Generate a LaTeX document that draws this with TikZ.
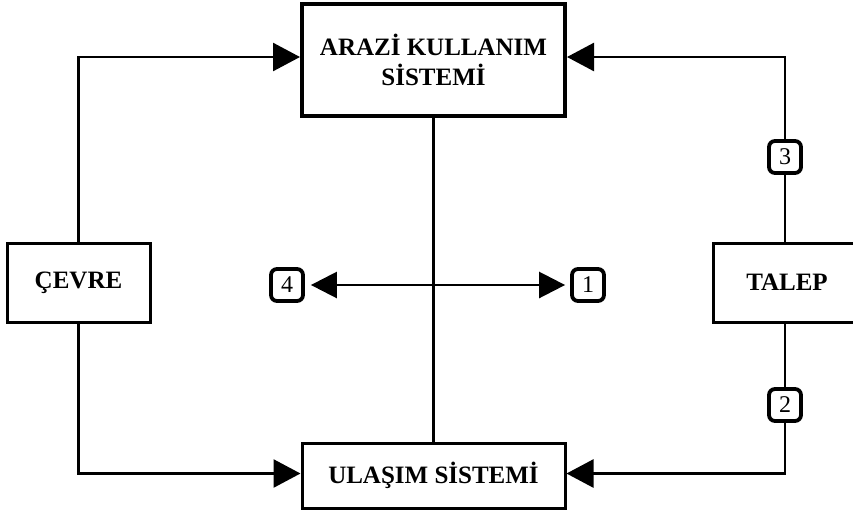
\documentclass[tikz,border=0pt]{standalone}
\usepackage{fontspec}
\setmainfont{Liberation Serif}
\usetikzlibrary{arrows.meta}

\begin{document}
\begin{tikzpicture}[x=1pt,y=-1pt,
  block/.style={draw, line width=3pt, fill=white, inner sep=0pt, align=center,
    font=\fontsize{25}{30}\selectfont\bfseries},
  tag/.style={draw, line width=3.8pt, rounded corners=6pt, fill=white, inner sep=0pt,
    minimum width=32pt, minimum height=32pt, font=\fontsize{24}{28}\selectfont},
  link/.style={line width=2.6pt},
  arr/.style={link, -{Triangle[length=27pt,width=28pt]}},
  dbl/.style={link, {Triangle[length=26pt,width=26pt]}-{Triangle[length=26pt,width=26pt]}}
]
\useasboundingbox (0,0) rectangle (853,512);

% system blocks
\node[block, line width=4pt, minimum width=263pt, minimum height=112pt] (land) at (433.5,60) {ARAZİ KULLANIM\\SİSTEMİ};
\node[block, minimum width=263pt, minimum height=65pt] (trans) at (433.5,475.5) {ULAŞIM SİSTEMİ};
\node[block, minimum width=143pt, minimum height=79pt] (env) at (78.5,282.5) {ÇEVRE};
\node[block, minimum width=148pt, minimum height=79pt] (dem) at (787,282.5) {TALEP};

% numbered tags
\node[tag] (n3) at (785,157) {3};
\node[tag] (n2) at (785,405) {2};
\node[tag] (n4) at (287,285) {4};
\node[tag] (n1) at (588,285) {1};

% central link between the two systems
\draw[link] (land.south) -- (trans.north);

% environment feeds both systems
\draw[arr] (env.north) |- ([yshift=3pt]land.west);
\draw[arr] (env.south) |- ([yshift=2pt]trans.west);

% demand feeds both systems
\draw[link] (dem.north -| n3) -- (n3.south);
\draw[arr] (n3.north) |- ([yshift=3pt]land.east);
\draw[link] (dem.south -| n2) -- (n2.north);
\draw[arr] (n2.south) |- ([yshift=2pt]trans.east);

% two-way arrow between tags 4 and 1
\draw[dbl, shorten <=6pt, shorten >=5pt] (n4.east) -- (n1.west);
\end{tikzpicture}
\end{document}
